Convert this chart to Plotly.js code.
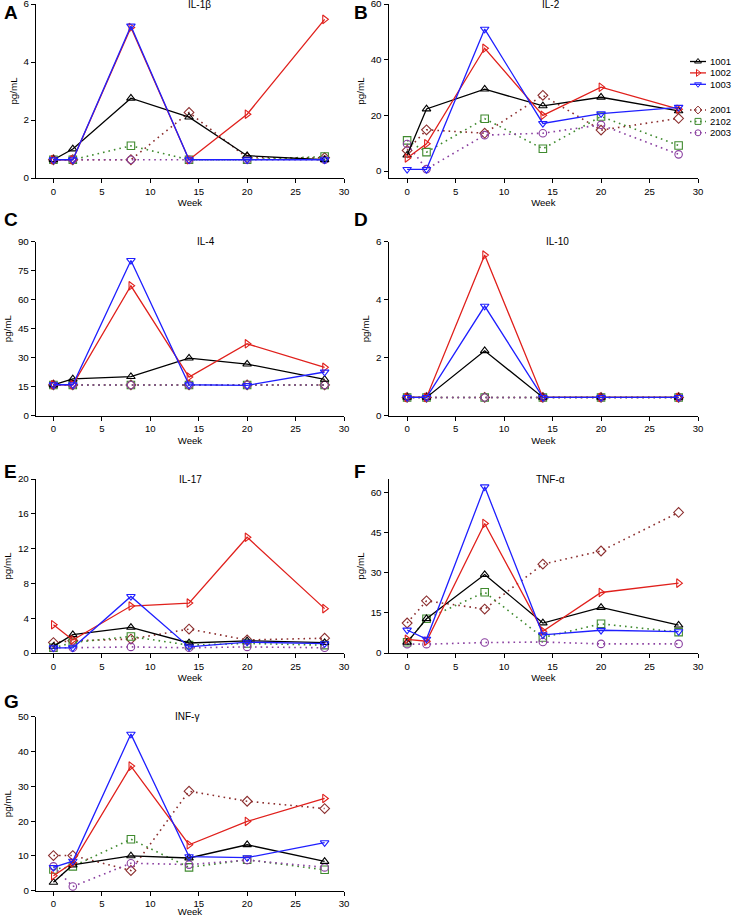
<!DOCTYPE html>
<html>
<head>
<meta charset="utf-8">
<script src="https://cdn.plot.ly/plotly-3.0.1.min.js"></script>
<style>html,body{margin:0;padding:0;background:#fff;}#chart{width:736px;height:917px;}</style>
</head>
<body>
<div id="chart"></div>
<script>
// ---------------- DATA ----------------
const weeks = [0, 2, 8, 14, 20, 28];
const subjects = ['1001', '1002', '1003', '2001', '2102', '2003'];
const panelLetters = ['A', 'B', 'C', 'D', 'E', 'F', 'G'];
const panelTitles = ['IL-1β', 'IL-2', 'IL-4', 'IL-10', 'IL-17', 'TNF-α', 'INF-γ'];
const xTicks = [0, 5, 10, 15, 20, 25, 30];

// rows: 1001, 1002, 1003, 2001, 2102, 2003
const il1b = [
  [0.63, 1.0, 2.75, 2.1, 0.77, 0.63],
  [0.63, 0.63, 5.19, 0.63, 2.2, 5.47],
  [0.63, 0.63, 5.24, 0.63, 0.63, 0.63],
  [0.63, 0.63, 0.63, 2.26, 0.7, 0.7],
  [0.63, 0.63, 1.11, 0.63, 0.63, 0.74],
  [0.63, 0.63, 0.63, 0.63, 0.63, 0.63]
];
const il2 = [
  [5.7, 22.3, 29.4, 23.4, 26.5, 21.6],
  [4.7, 9.8, 44.1, 20.0, 30.1, 22.2],
  [0.6, 0.6, 51.0, 17.1, 20.6, 22.9],
  [7.4, 14.8, 13.6, 27.2, 14.7, 18.9],
  [11.0, 6.8, 18.8, 8.0, 19.6, 9.2],
  [9.7, 0.7, 12.9, 13.6, 16.6, 6.0]
];
const il4 = [
  [15.9, 19.0, 20.2, 29.8, 26.7, 18.8],
  [16.0, 16.0, 67.2, 20.0, 37.2, 25.0],
  [16.0, 16.0, 80.3, 16.0, 15.7, 22.6],
  [15.9, 15.9, 15.9, 15.9, 15.9, 15.9],
  [15.9, 15.9, 15.9, 15.9, 15.9, 15.9],
  [15.9, 15.9, 15.9, 15.9, 15.9, 15.9]
];
const il10 = [
  [0.63, 0.63, 2.24, 0.63, 0.63, 0.63],
  [0.63, 0.63, 5.54, 0.63, 0.63, 0.63],
  [0.63, 0.63, 3.78, 0.63, 0.63, 0.63],
  [0.63, 0.63, 0.63, 0.63, 0.63, 0.63],
  [0.63, 0.63, 0.63, 0.63, 0.63, 0.63],
  [0.63, 0.63, 0.63, 0.63, 0.63, 0.63]
];
const il17 = [
  [0.76, 2.1, 2.94, 1.15, 1.4, 1.2],
  [3.25, 1.5, 5.4, 5.74, 13.3, 5.1],
  [0.6, 0.6, 6.5, 0.7, 1.25, 1.07],
  [1.2, 1.4, 1.6, 2.75, 1.5, 1.7],
  [0.6, 1.2, 1.9, 0.9, 1.1, 0.9],
  [0.6, 0.6, 0.7, 0.6, 0.7, 0.6]
];
const tnfa = [
  [4.0, 12.8, 29.3, 11.2, 17.0, 10.4],
  [5.1, 4.4, 48.4, 8.1, 22.6, 26.1],
  [8.6, 5.2, 62.1, 6.8, 8.5, 8.0],
  [11.2, 19.5, 16.4, 33.2, 38.1, 52.5],
  [4.0, 12.8, 22.7, 5.8, 10.9, 7.8],
  [3.3, 3.3, 3.9, 4.1, 3.4, 3.4]
];
const infg = [
  [2.4, 7.4, 10.0, 9.4, 13.2, 8.4],
  [4.3, 8.0, 35.8, 13.2, 19.9, 26.5],
  [6.7, 8.5, 45.0, 9.8, 9.5, 13.8],
  [10.1, 10.1, 5.8, 28.6, 25.7, 23.6],
  [6.1, 7.0, 14.8, 6.7, 8.9, 6.0],
  [7.0, 1.2, 7.9, 7.5, 8.8, 6.7]
];
const panelData = [il1b, il2, il4, il10, il17, tnfa, infg];
const yMax = [6, 60, 90, 6, 20, 65, 50];
const yMin = [0, -2.5, 0, 0, 0, 0, 0];
const yDtick = [2, 20, 15, 2, 4, 15, 10];
const yTop = [6, 60, 90, 6, 20, 60, 50];

// ---------------- STYLE ----------------
const W = 736, H = 917;
const FONT = 'Liberation Sans, Arial, Helvetica, sans-serif';
const colors = ['#000000', '#e0201c', '#1f1fff', '#8b2e2e', '#3f8a2e', '#8a3fa0'];
const symbols = ['triangle-up-open', 'triangle-right-open', 'triangle-down-open', 'diamond-open', 'square-open', 'circle-open'];
const dotted = [false, false, false, true, true, true];
const colX = [[36, 344], [388.7, 698]];
const colXmin = [-1.8, -1.9];
const rowTop = [4, 241.7, 479, 716.7];
const plotH = 174;
const panelCol = [0, 1, 0, 1, 0, 1, 0];
const panelRow = [0, 0, 1, 1, 2, 2, 3];
const titleX = [15.1, 14.8, 15.8, 15.5, 14.1, 14.8, 13.8];
const letterPos = [[2, 12], [352, 12], [2, 219], [352, 219], [2, 471], [352, 471], [2, 701]];

const traces = [];
const layout = {
  width: W, height: H,
  margin: {l: 0, r: 0, t: 0, b: 0},
  paper_bgcolor: '#fff', plot_bgcolor: 'rgba(0,0,0,0)',
  showlegend: false,
  font: {family: FONT, size: 10, color: '#000'},
  annotations: []
};

const drawOrder = [3, 4, 5, 0, 1, 2];

panelData.forEach((pd, p) => {
  const n = p + 1;
  const xa = 'x' + (n === 1 ? '' : n), ya = 'y' + (n === 1 ? '' : n);
  const c = panelCol[p], r = panelRow[p];
  layout['xaxis' + (n === 1 ? '' : n)] = {
    domain: [colX[c][0] / W, colX[c][1] / W],
    anchor: ya,
    range: [colXmin[c], 30],
    tickvals: xTicks,
    showline: true, linecolor: '#000', linewidth: 1.2,
    ticks: 'outside', ticklen: 4, tickwidth: 1, tickcolor: '#000',
    showgrid: false, zeroline: false, ticklabeloverflow: 'allow',
    tickfont: {size: 9.6, family: FONT},
    title: {text: 'Week', font: {size: 9.6, family: FONT}, standoff: 3}
  };
  const yt = [];
  for (let v = 0; v <= yTop[p] + 1e-9; v += yDtick[p]) yt.push(v);
  layout['yaxis' + (n === 1 ? '' : n)] = {
    domain: [1 - (rowTop[r] + plotH) / H, 1 - rowTop[r] / H],
    anchor: xa,
    range: [yMin[p], yMax[p]],
    tickvals: yt,
    showline: true, linecolor: '#000', linewidth: 1.2,
    ticks: 'outside', ticklen: 4, tickwidth: 1, tickcolor: '#000',
    showgrid: false, zeroline: false, ticklabeloverflow: 'allow',
    tickfont: {size: 9.8, family: FONT},
    title: {text: 'pg/mL', font: {size: 9.8, family: FONT}, standoff: 4}
  };
  drawOrder.forEach(s => {
    traces.push({
      type: 'scatter', mode: 'lines+markers',
      x: weeks, y: pd[s], xaxis: xa, yaxis: ya,
      name: subjects[s], cliponaxis: false,
      line: dotted[s] ? {color: colors[s], width: 1.6, dash: '1.6px,4px'} : {color: colors[s], width: 1.3},
      marker: {symbol: symbols[s], size: 7.5, color: colors[s], line: {width: 1.1, color: colors[s]}}
    });
  });
  layout.annotations.push({
    xref: xa, yref: ya + ' domain', x: titleX[p], y: 1, xanchor: 'center', yanchor: 'middle',
    text: panelTitles[p], showarrow: false, font: {size: 10, family: FONT}
  });
  layout.annotations.push({
    xref: 'paper', yref: 'paper', x: letterPos[p][0] / W, y: 1 - letterPos[p][1] / H,
    xanchor: 'left', yanchor: 'middle', text: '<b>' + panelLetters[p] + '</b>',
    showarrow: false, font: {size: 19, family: FONT, color: '#000'}
  });
});

// ---------------- LEGEND (drawn on a hidden helper axis) ----------------
layout.xaxis8 = {domain: [686 / W, 1], range: [686, 736], visible: false, fixedrange: true, anchor: 'y8'};
layout.yaxis8 = {domain: [1 - 140 / H, 1 - 50 / H], range: [140, 50], visible: false, fixedrange: true, anchor: 'x8'};
subjects.forEach((name, s) => {
  const ry = 61.5 + 11.4 * s + (s >= 3 ? 14.3 : 0);
  traces.push({
    type: 'scatter', mode: 'lines', x: [690, 706], y: [ry, ry], xaxis: 'x8', yaxis: 'y8',
    line: dotted[s] ? {color: colors[s], width: 1.5, dash: '1.5px,3.5px'} : {color: colors[s], width: 1.3},
    hoverinfo: 'skip', cliponaxis: false
  });
  traces.push({
    type: 'scatter', mode: 'markers', x: [698], y: [ry], xaxis: 'x8', yaxis: 'y8',
    marker: {symbol: symbols[s], size: 6, color: colors[s], line: {width: 1, color: colors[s]}},
    hoverinfo: 'skip', cliponaxis: false
  });
  layout.annotations.push({
    xref: 'x8', yref: 'y8', x: 707.5, y: ry, xanchor: 'left', yanchor: 'middle',
    text: name, showarrow: false, font: {size: 9.5, family: FONT}
  });
});

Plotly.newPlot('chart', traces, layout, {staticPlot: true, displayModeBar: false});
</script>
</body>
</html>
